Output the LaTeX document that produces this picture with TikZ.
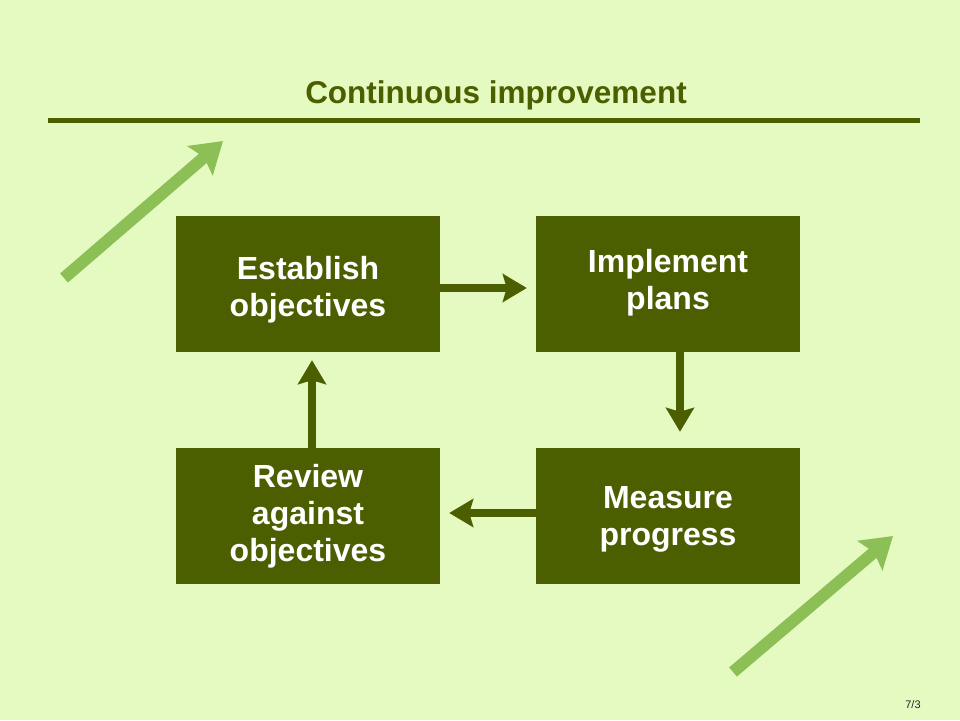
\documentclass[tikz,border=0pt]{standalone}
\usepackage{fontspec}
\setmainfont{Liberation Sans}
\usetikzlibrary{arrows.meta}
\definecolor{bg}{HTML}{E5FAC0}
\definecolor{olive}{HTML}{4B5E00}
\definecolor{lightarr}{HTML}{8CBF55}
% #1 = twice the downward shift of the text inside its box
\newcommand\boxtext[2]{\raisebox{0pt}[\dimexpr\height+#1pt\relax][\depth]{\begin{tabular}{@{}c@{}}#2\end{tabular}}}
\begin{document}
\begin{tikzpicture}[x=1pt,y=-1pt,
  stepbox/.style={fill=olive,draw=none,minimum width=264pt,minimum height=136pt,inner sep=0pt,
    text=white,font=\fontsize{32}{37}\selectfont\bfseries,align=center},
  flow/.style={draw=olive,line width=8pt,-{Stealth[length=24pt,width=28pt,inset=4pt]}},
  rise/.style={draw=lightarr,line width=12pt,-{Stealth[length=30pt,width=38pt,inset=5pt]}}]
\fill[bg] (0,0) rectangle (960,720);
\useasboundingbox (0,0) rectangle (960,720);
\node[text=olive,font=\fontsize{31.5}{36}\selectfont\bfseries] (title) at (496,95) {Continuous improvement};
\coordinate (ruleL) at (48,120);
\coordinate (ruleR) at (920,120);
\draw[olive,line width=5pt] (ruleL) -- (ruleR);
\node[stepbox] (est) at (308,284) {\boxtext{13}{Establish\\objectives}};
\node[stepbox] (imp) at (668,284) {\boxtext{0}{Implement\\plans}};
\node[stepbox] (rev) at (308,516) {\boxtext{2}{Review\\against\\objectives}};
\node[stepbox] (mea) at (668,516) {\boxtext{7}{Measure\\progress}};
\draw[flow,shorten >=9pt] (est.east |- 0,288) -- (imp.west |- 0,288);
\draw[flow,shorten >=16pt] (imp.south -| 680,0) -- (mea.north -| 680,0);
\draw[flow,shorten >=9pt] (mea.west |- 0,513) -- (rev.east |- 0,513);
\draw[flow,shorten >=8pt] (rev.north -| 312,0) -- (est.south -| 312,0);
\coordinate (a1s) at (64,278);
\coordinate (a1e) at (223,141);
\coordinate (a2s) at (733,672);
\coordinate (a2e) at (893,536);
\draw[rise] (a1s) -- (a1e);
\draw[rise] (a2s) -- (a2e);
\node[font=\fontsize{11}{13}\selectfont,text=black!85] (pg) at (913,705) {7/3};
\end{tikzpicture}
\end{document}
